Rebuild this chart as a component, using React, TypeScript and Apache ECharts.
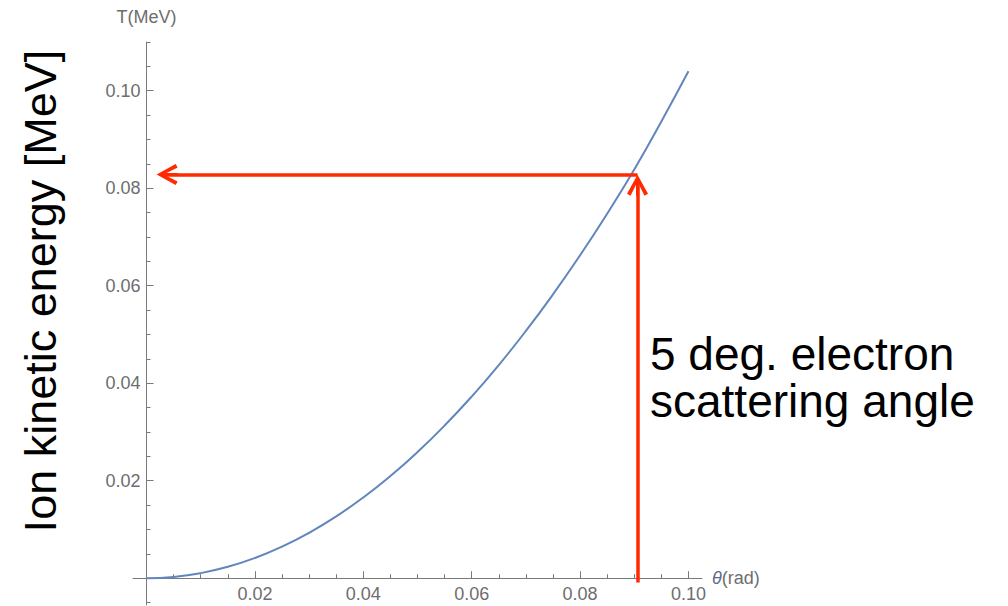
import { useEffect, useRef } from "react";
import * as echarts from "echarts";

// Curve: ion kinetic energy T (MeV) vs. scattering angle θ (rad)
const thetaValues = [
  0, 0.005, 0.01, 0.015, 0.02, 0.025, 0.03, 0.035, 0.04, 0.045, 0.05,
  0.055, 0.06, 0.065, 0.07, 0.075, 0.08, 0.085, 0.09, 0.095, 0.1,
];
const energyValues = [
  0, 0.00026, 0.00104, 0.00233, 0.00414, 0.00647, 0.00932, 0.01268, 0.01656,
  0.02096, 0.02588, 0.03131, 0.03726, 0.04373, 0.05072, 0.05822, 0.06624,
  0.07478, 0.08384, 0.0937, 0.104,
];

// Axis ticks
const xMajorTicks = [0.02, 0.04, 0.06, 0.08, 0.1];
const xMinorTicks = [
  0.005, 0.01, 0.015, 0.025, 0.03, 0.035, 0.045, 0.05, 0.055, 0.065, 0.07,
  0.075, 0.085, 0.09, 0.095,
];
const yMajorTicks = [0.02, 0.04, 0.06, 0.08, 0.1];
const yMinorTicks = [
  -0.005, 0.005, 0.01, 0.015, 0.025, 0.03, 0.035, 0.045, 0.05, 0.055, 0.065,
  0.07, 0.075, 0.085, 0.09, 0.095, 0.105, 0.11,
];

// Annotation arrows (data coordinates)
const arrowTheta = 0.0906;
const arrowEnergy = 0.0828;
const arrowBaseEnergy = -0.0009;
const arrowHeadTheta = 0.0038;
const arrowHeadEnergy = 0.0806;

const xRange = [-0.0025, 0.1025];
const yRange = [-0.0055, 0.11];

const yTitle = "Ion kinetic energy [MeV]";
const noteLines = ["5 deg. electron", "scattering angle"];

const AXIS_COLOR = "#7a7a7a";
const LABEL_COLOR = "#6e6e6e";
const RED = "#ff2a00";
const CHEVRON =
  "path://M10,0 L20.5,19 L17,21 L11.5,10 L11.5,21 L8.5,21 L8.5,10 L3,21 L-0.5,19 Z";

export default function App() {
  const ref = useRef<HTMLDivElement>(null);

  useEffect(() => {
    if (!ref.current) return;
    const chart = echarts.init(ref.current, undefined, { renderer: "svg" });
    const fmt = (v: number) => v.toFixed(2);
    const labelStyle = {
      color: LABEL_COLOR,
      fontFamily: "Liberation Sans",
      fontSize: 18,
    };

    chart.setOption({
      animation: false,
      backgroundColor: "#ffffff",
      grid: {
        left: 133,
        right: 306,
        top: 42,
        bottom: 1,
        containLabel: false,
        outerBoundsMode: "none",
      },
      xAxis: [
        {
          type: "value",
          position: "bottom",
          min: xRange[0],
          max: xRange[1],
          name: "{i|θ}(rad)",
          nameLocation: "end",
          nameGap: 10,
          nameTextStyle: {
            ...labelStyle,
            verticalAlign: "middle",
            rich: {
              i: { ...labelStyle, fontStyle: "italic", color: "#5a6a8a" },
            },
          },
          axisLine: {
            onZero: true,
            onZeroAxisIndex: 0,
            lineStyle: { color: AXIS_COLOR, width: 1 },
          },
          axisTick: {
            inside: true,
            length: 7,
            customValues: xMajorTicks,
            lineStyle: { color: AXIS_COLOR },
          },
          axisLabel: {
            customValues: xMajorTicks,
            formatter: fmt,
            margin: -20,
            ...labelStyle,
          },
          splitLine: { show: false },
        },
        {
          type: "value",
          position: "bottom",
          min: xRange[0],
          max: xRange[1],
          axisLine: {
            show: false,
            onZero: true,
            onZeroAxisIndex: 0,
          },
          axisTick: {
            inside: true,
            length: 4,
            customValues: xMinorTicks,
            lineStyle: { color: AXIS_COLOR },
          },
          axisLabel: { show: false },
          splitLine: { show: false },
        },
      ],
      yAxis: [
        {
          type: "value",
          position: "left",
          min: yRange[0],
          max: yRange[1],
          name: "T(MeV)",
          nameLocation: "end",
          nameGap: 16,
          nameTextStyle: { ...labelStyle, align: "center" },
          axisLine: {
            onZero: true,
            onZeroAxisIndex: 0,
            lineStyle: { color: AXIS_COLOR, width: 1 },
          },
          axisTick: {
            inside: true,
            length: 7,
            customValues: yMajorTicks,
            lineStyle: { color: AXIS_COLOR },
          },
          axisLabel: {
            customValues: yMajorTicks,
            formatter: fmt,
            margin: -7.5,
            ...labelStyle,
          },
          splitLine: { show: false },
        },
        {
          type: "value",
          position: "left",
          min: yRange[0],
          max: yRange[1],
          axisLine: { show: false, onZero: true, onZeroAxisIndex: 0 },
          axisTick: {
            inside: true,
            length: 4,
            customValues: yMinorTicks,
            lineStyle: { color: AXIS_COLOR },
          },
          axisLabel: { show: false },
          splitLine: { show: false },
        },
      ],
      series: [
        {
          type: "line",
          xAxisIndex: 0,
          yAxisIndex: 0,
          data: thetaValues.map((t, i) => [t, energyValues[i]]),
          smooth: true,
          showSymbol: false,
          symbol: "none",
          lineStyle: { color: "#6186bd", width: 2 },
          z: 2,
          markLine: {
            silent: true,
            symbol: ["none", CHEVRON],
            symbolSize: 21,
            label: { show: false },
            lineStyle: {
              color: RED,
              width: 3.5,
              type: "solid",
              opacity: 1,
            },
            itemStyle: { color: RED },
            emphasis: { disabled: true },
            data: [
              [
                { coord: [arrowTheta, arrowEnergy] },
                { coord: [arrowHeadTheta, arrowEnergy] },
              ],
              [
                { coord: [arrowTheta, arrowBaseEnergy] },
                { coord: [arrowTheta, arrowHeadEnergy] },
              ],
            ],
          },
        },
      ],
      graphic: [
        {
          type: "text",
          x: 40,
          y: 291,
          rotation: Math.PI / 2,
          style: {
            text: yTitle,
            fill: "#000",
            font: "45px 'Liberation Sans'",
            align: "center",
            verticalAlign: "middle",
            textAlign: "center",
            textVerticalAlign: "middle",
          },
        },
        {
          type: "text",
          x: 650,
          y: 354,
          style: {
            text: noteLines[0],
            fill: "#000",
            font: "46px 'Liberation Sans'",
            align: "left",
            verticalAlign: "middle",
            textAlign: "left",
            textVerticalAlign: "middle",
          },
        },
        {
          type: "text",
          x: 650,
          y: 401,
          style: {
            text: noteLines[1],
            fill: "#000",
            font: "46px 'Liberation Sans'",
            align: "left",
            verticalAlign: "middle",
            textAlign: "left",
            textVerticalAlign: "middle",
          },
        },
      ],
    });

    return () => chart.dispose();
  }, []);

  return (
    <div
      ref={ref}
      style={{ position: "absolute", left: 0, top: 0, width: 1008, height: 606 }}
    />
  );
}
